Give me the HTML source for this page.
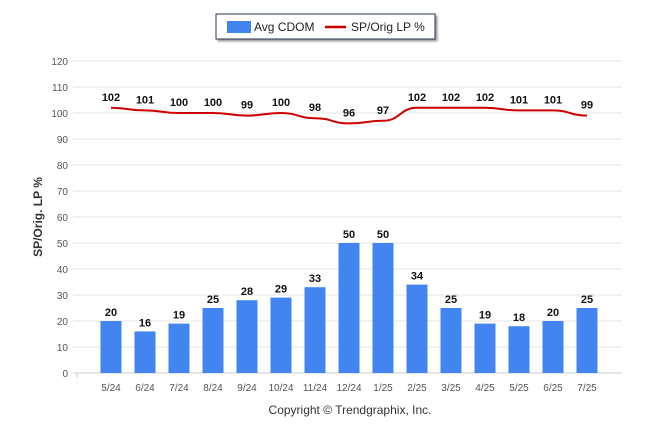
<!DOCTYPE html>
<html><head><meta charset="utf-8"><style>
body{margin:0;background:#fff;font-family:"Liberation Sans",Arial,sans-serif}
svg text{font-family:"Liberation Sans",Arial,sans-serif}
</style></head><body>
<svg id="c" width="646" height="434" xmlns="http://www.w3.org/2000/svg">
<g>
<rect x="216" y="14" width="219" height="25" fill="#fff" stroke="#2a3550" stroke-width="1" style="filter:drop-shadow(2px 2px 1px #999)"/>
<rect x="227" y="21" width="24" height="12" fill="#4285f0"/>
<text x="254" y="31" font-size="12" fill="#222">Avg CDOM</text>
<line x1="325" y1="27" x2="346" y2="27" stroke="#c00" stroke-width="2.5"/>
<text x="351" y="31" font-size="12" fill="#222">SP/Orig LP %</text>
</g>
<text transform="translate(42,217) rotate(-90)" text-anchor="middle" font-size="12" font-weight="bold" fill="#333">SP/Orig. LP %</text>
<text x="350" y="414" text-anchor="middle" font-size="12" fill="#333">Copyright © Trendgraphix, Inc.</text>
<g id="grid"></g><g id="bars"></g><g id="line"></g><g id="labels"></g>
</svg>
<script>
const categories=["5/24","6/24","7/24","8/24","9/24","10/24","11/24","12/24","1/25","2/25","3/25","4/25","5/25","6/25","7/25"];
const cdom=[20,16,19,25,28,29,33,50,50,34,25,19,18,20,25];
const spOrig=[102,101,100,100,99,100,98,96,97,102,102,102,101,101,99];
const yTicks=[0,10,20,30,40,50,60,70,80,90,100,110,120];
const NS="http://www.w3.org/2000/svg";
const L=77,R=622,slot=34,y0=373,ppu=2.6;
const x=i=>L+slot*(i+1);
const y=v=>y0-v*ppu;
function mk(t,a,p){const e=document.createElementNS(NS,t);for(const k in a)e.setAttribute(k,a[k]);p.appendChild(e);return e;}
const g=document.getElementById('grid');
yTicks.forEach(v=>{
 const l=mk('line',{x1:L-4,x2:R,y1:y(v),y2:y(v),stroke:'#e6e6e6','stroke-width':1},g);
 
 
 const t=mk('text',{x:L-9,y:y(v)+4,'text-anchor':'end','font-size':10,fill:'#555'},g);
 t.textContent=v;
 
 
});
const ax=mk('line',{x1:L-4,x2:R,y1:y0,y2:y0,stroke:'#ccc'},g);


const tk=mk('line',{x1:L,x2:L,y1:y0,y2:y0+5,stroke:'#ccc'},g);


const b=document.getElementById('bars'),lb=document.getElementById('labels');
categories.forEach((c,i)=>{
 const r=mk('rect',{x:x(i)-10.5,y:y(cdom[i]),width:21,height:cdom[i]*ppu,fill:'#4285f0'},b);
 
 
 const t=mk('text',{x:x(i),y:y(cdom[i])-5,'text-anchor':'middle','font-size':11,'font-weight':'bold',fill:'#111'},lb);
 t.textContent=cdom[i];
 
 
 const xl=mk('text',{x:x(i),y:y0+18,'text-anchor':'middle','font-size':10,fill:'#555'},lb);
 xl.textContent=c;
 
 
 const p=mk('text',{x:x(i),y:y(spOrig[i])-7,'text-anchor':'middle','font-size':11,'font-weight':'bold',fill:'#111'},lb);
 p.textContent=spOrig[i];
 
 
});
const pts=spOrig.map((v,i)=>[x(i),y(v)]);
let d='M'+pts[0][0]+','+pts[0][1];
for(let i=1;i<pts.length;i++){const p0=pts[i-1],p1=pts[i],dx=(p1[0]-p0[0])/2;d+=` C${p0[0]+dx},${p0[1]} ${p1[0]-dx},${p1[1]} ${p1[0]},${p1[1]}`;}
const path=mk('path',{d:d,fill:'none',stroke:'#c00','stroke-width':2},document.getElementById('line'));


</script>
</body></html>
